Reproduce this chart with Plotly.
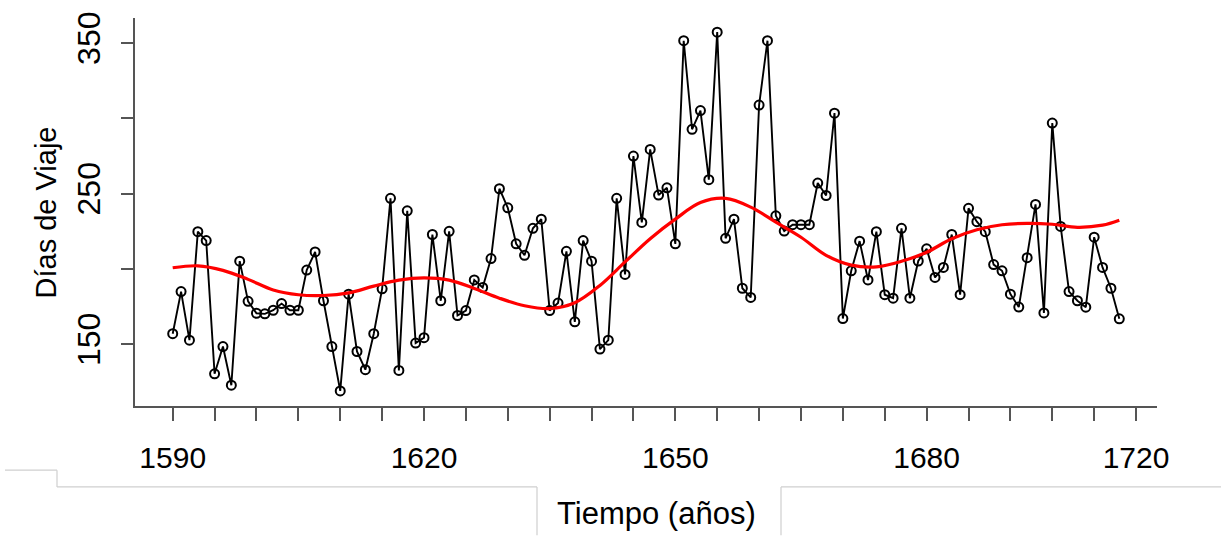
import plotly.graph_objects as go

# Annual voyage durations (days), one value per year
years = list(range(1590, 1704))
dias = [
    156.9, 184.9, 152.6, 224.7, 218.8, 130.3, 148.4, 122.7, 205.1, 178.4,
    170.5, 170.1, 172.5, 176.9, 172.5, 172.5, 199.2, 211.2, 178.8, 148.4,
    118.9, 183.2, 145.1, 133.0, 156.9, 186.7, 246.8, 132.5, 238.5, 150.7,
    154.3, 222.8, 178.8, 224.9, 169.0, 172.3, 192.6, 187.6, 206.8, 253.2,
    240.5, 216.6, 209.0, 226.9, 233.0, 172.3, 177.3, 211.6, 164.8, 218.8,
    205.1, 146.7, 152.6, 246.8, 196.3, 274.9, 230.8, 279.3, 249.0, 253.8,
    216.6, 351.5, 292.7, 305.1, 259.2, 357.2, 220.3, 233.0, 187.1, 181.0,
    308.8, 351.5, 235.2, 225.1, 229.3, 229.3, 229.3, 257.0, 248.7, 303.4,
    167.0, 198.7, 218.4, 192.6, 224.7, 182.8, 180.5, 226.9, 180.5, 205.2,
    213.3, 194.3, 200.9, 222.8, 182.8, 240.2, 231.3, 224.7, 202.8, 198.7,
    183.2, 174.6, 207.4, 242.8, 170.7, 296.8, 228.2, 184.9, 178.8, 174.5,
    221.0, 200.9, 187.1, 166.8,
]

# Smoothed trend of the series
trend_years = [1590, 1593, 1596, 1599, 1602, 1605, 1608, 1611, 1614, 1617,
               1620, 1623, 1626, 1629, 1632, 1635, 1638, 1641, 1644, 1647,
               1650, 1653, 1656, 1659, 1662, 1665, 1668, 1671, 1674, 1677,
               1680, 1683, 1686, 1689, 1692, 1695, 1698, 1701, 1703]
trend = [200.7, 202.0, 199.0, 193.0, 186.0, 182.8, 182.3, 184.0, 188.5, 192.5,
         194.0, 192.5, 187.0, 180.5, 175.5, 173.6, 177.5, 189.0, 204.6, 220.0,
         233.0, 244.0, 246.8, 241.0, 231.0, 221.0, 209.0, 202.5, 201.3, 205.0,
         211.0, 220.0, 226.0, 229.3, 230.2, 229.6, 227.6, 229.0, 232.3]

# Axis ticks
x_tick_vals = list(range(1590, 1706, 5))
x_tick_labels = {1590: "1590", 1620: "1620", 1650: "1650", 1680: "1680", 1705: "1720"}
x_tick_text = [x_tick_labels.get(v, "") for v in x_tick_vals]
y_tick_vals = [150, 200, 250, 300, 350]
y_tick_text = ["150", "", "250", "", "350"]

FIG_W, FIG_H = 1221, 537
M_L, M_R, M_T, M_B = 135, 64, 13, 131
PW, PH = FIG_W - M_L - M_R, FIG_H - M_T - M_B


def px(xp):
    return (xp - M_L) / PW


def py(yp):
    return (FIG_H - M_B - yp) / PH


FONT = "Liberation Sans, Arial, sans-serif"

fig = go.Figure()
fig.add_trace(go.Scatter(
    x=years, y=dias, mode="lines+markers",
    line=dict(color="black", width=1.9),
    marker=dict(symbol="circle-open", size=9, color="black", line=dict(width=2)),
    hoverinfo="x+y", showlegend=False,
))
fig.add_trace(go.Scatter(
    x=trend_years, y=trend, mode="lines",
    line=dict(color="#ff0000", width=3.2, shape="spline", smoothing=1.0),
    showlegend=False,
))

fig.update_xaxes(
    range=[1585.5, 1707.5], showgrid=False, zeroline=False,
    showline=True, linecolor="#555555", linewidth=1.5,
    ticks="outside", ticklen=13, tickwidth=1.5, tickcolor="#555555",
    tickvals=x_tick_vals, ticktext=x_tick_text,
    tickfont=dict(family=FONT, size=30, color="black"),
    ticklabelstandoff=11,
)
fig.update_yaxes(
    range=[108.9, 366.6], showgrid=False, zeroline=False,
    showline=True, linecolor="#555555", linewidth=1.5,
    ticks="outside", ticklen=12, tickwidth=1.5, tickcolor="#555555",
    tickvals=y_tick_vals, ticktext=y_tick_text, tickangle=-90,
    tickfont=dict(family=FONT, size=32, color="black"),
    ticklabelstandoff=8,
)

grey = "#cfcfcf"
seg = [((5, 471), (57, 471)), ((57, 471), (57, 488)), ((57, 488), (537, 488)),
       ((537, 488), (537, 537)), ((781, 537), (781, 488)), ((781, 488), (1221, 488))]
shapes = [dict(type="line", xref="paper", yref="paper",
               x0=px(a[0]), y0=py(a[1]), x1=px(b[0]), y1=py(b[1]),
               line=dict(color=grey, width=1.2)) for a, b in seg]

fig.update_layout(
    width=FIG_W, height=FIG_H,
    margin=dict(l=M_L, r=M_R, t=M_T, b=M_B),
    paper_bgcolor="white", plot_bgcolor="white",
    shapes=shapes,
    annotations=[
        dict(text="Días de Viaje", xref="paper", yref="paper",
             x=px(46), y=py(210), textangle=-90, showarrow=False,
             xanchor="center", yanchor="middle",
             font=dict(family=FONT, size=29, color="black")),
        dict(text="Tiempo (años)", xref="paper", yref="paper",
             x=px(656), y=py(515), showarrow=False,
             xanchor="center", yanchor="middle",
             font=dict(family=FONT, size=31, color="black")),
    ],
)

fig.write_html("out.html")
